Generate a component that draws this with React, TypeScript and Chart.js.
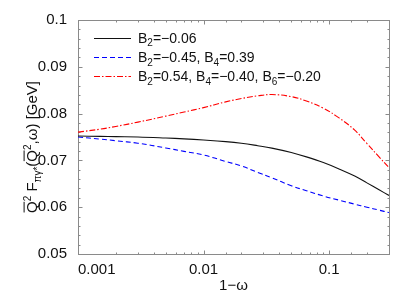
import React, { useEffect, useRef } from 'react';
import { Chart, registerables } from 'chart.js';

Chart.register(...registerables);

// ---- data ----
const xValues = [0.001, 0.0015, 0.002, 0.003, 0.005, 0.007, 0.01, 0.015, 0.02, 0.027, 0.035, 0.05, 0.066, 0.09, 0.12, 0.16, 0.2, 0.25, 0.3];
const seriesB2 = [0.0752, 0.07514, 0.07507, 0.075, 0.07478, 0.0746, 0.07436, 0.07402, 0.07367, 0.07314, 0.07262, 0.07168, 0.07075, 0.06954, 0.06818, 0.06665, 0.0652, 0.06371, 0.06252];
const seriesB2B4 = [0.07499, 0.07455, 0.07421, 0.07367, 0.07266, 0.07193, 0.07115, 0.06977, 0.06881, 0.06744, 0.06627, 0.06459, 0.06352, 0.06239, 0.06151, 0.06065, 0.06, 0.05937, 0.05885];
const seriesB2B4B6 = [0.07604, 0.07667, 0.07725, 0.07818, 0.07946, 0.08034, 0.08128, 0.0825, 0.08321, 0.08379, 0.08407, 0.08363, 0.08268, 0.08115, 0.07908, 0.07646, 0.07361, 0.07075, 0.06845];
const legendLabels = ['B_2=−0.06', 'B_2=−0.45, B_4=0.39', 'B_2=0.54, B_4=−0.40, B_6=−0.20'];
const xMin = 0.001;
const xMax = 0.3;
const yMin = 0.05;
const yMax = 0.1;
const yMajorStep = 0.01;
const yMinorStep = 0.002;
const xTitle = '1−ω';
const FONT = '"Liberation Sans", Arial, Helvetica, sans-serif';

type Part = { t: string; k?: 'sub' | 'sup'; over?: boolean };
const yTitleParts: Part[] = [
  { t: 'Q', over: true },
  { t: '2', k: 'sup' },
  { t: ' F' },
  { t: 'πγ*', k: 'sub' },
  { t: '(' },
  { t: 'Q', over: true },
  { t: '2', k: 'sup' },
  { t: ',ω) [GeV]' },
];

function parseLabel(s: string): Part[] {
  const out: Part[] = [];
  let buf = '';
  for (let i = 0; i < s.length; i++) {
    if (s[i] === '_' && i + 1 < s.length) {
      if (buf) out.push({ t: buf });
      buf = '';
      out.push({ t: s[i + 1], k: 'sub' });
      i++;
    } else buf += s[i];
  }
  if (buf) out.push({ t: buf });
  return out;
}

function drawRich(ctx: CanvasRenderingContext2D, parts: Part[], x: number, y: number, size: number, align: 'left' | 'center') {
  const small = Math.round(size * 0.68);
  const setFont = (p: Part) => {
    ctx.font = `${p.k ? small : size}px ${FONT}`;
  };
  let total = 0;
  parts.forEach((p) => {
    setFont(p);
    total += ctx.measureText(p.t).width;
  });
  let cx = align === 'center' ? x - total / 2 : x;
  ctx.textBaseline = 'alphabetic';
  ctx.textAlign = 'left';
  parts.forEach((p) => {
    setFont(p);
    const w = ctx.measureText(p.t).width;
    let dy = 0;
    if (p.k === 'sub') dy = size * 0.28;
    if (p.k === 'sup') dy = -size * 0.42;
    ctx.fillText(p.t, cx, y + dy);
    if (p.over) {
      ctx.save();
      ctx.lineWidth = 1;
      ctx.strokeStyle = ctx.fillStyle as string;
      ctx.beginPath();
      const oy = y - size * 0.86;
      ctx.moveTo(cx + 0.5, oy);
      ctx.lineTo(cx + w - 0.5, oy);
      ctx.stroke();
      ctx.restore();
    }
    cx += w;
  });
}

const isPow10 = (v: number) => {
  const l = Math.log10(v);
  return Math.abs(l - Math.round(l)) < 1e-6;
};

const framePlugin = {
  id: 'frameTicks',
  beforeDatasetsDraw(chart: any) {
    const { ctx, chartArea: a, scales } = chart;
    const xs = scales.x;
    const ys = scales.y;
    const L = Math.round(a.left) + 0.5;
    const R = Math.round(a.right) + 0.5;
    const T = Math.round(a.top) + 0.5;
    const B = Math.round(a.bottom) + 0.5;
    ctx.save();
    ctx.strokeStyle = '#8a8a8a';
    ctx.lineWidth = 1;
    ctx.strokeRect(L, T, R - L, B - T);
    ctx.beginPath();
    xs.ticks.forEach((t: any) => {
      const px = Math.round(xs.getPixelForValue(t.value)) + 0.5;
      const len = isPow10(t.value) ? 4 : 2;
      ctx.moveTo(px, B);
      ctx.lineTo(px, B - len);
      ctx.moveTo(px, T);
      ctx.lineTo(px, T + len);
    });
    const n = Math.round((yMax - yMin) / yMinorStep);
    for (let i = 0; i <= n; i++) {
      const v = yMin + i * yMinorStep;
      const py = Math.round(ys.getPixelForValue(v)) + 0.5;
      const major = i % Math.round(yMajorStep / yMinorStep) === 0;
      const len = major ? 4 : 2;
      ctx.moveTo(L, py);
      ctx.lineTo(L + len, py);
      ctx.moveTo(R, py);
      ctx.lineTo(R - len, py);
    }
    ctx.stroke();
    ctx.restore();
  },
  afterDraw(chart: any) {
    const { ctx, chartArea: a } = chart;
    ctx.save();
    // legend
    chart.data.datasets.forEach((ds: any, i: number) => {
      const y = a.top + 17.5 + i * 19.2;
      ctx.save();
      ctx.strokeStyle = ds.borderColor;
      ctx.lineWidth = ds.borderWidth;
      ctx.setLineDash(ds.borderDash || []);
      ctx.beginPath();
      ctx.moveTo(a.left + 16, Math.round(y) + 0.5);
      ctx.lineTo(a.left + 53, Math.round(y) + 0.5);
      ctx.stroke();
      ctx.restore();
      ctx.fillStyle = '#111';
      drawRich(ctx, parseLabel(legendLabels[i]), a.left + 60, y + 5, 14, 'left');
    });
    // y-axis title
    ctx.translate(37, 147);
    ctx.rotate(-Math.PI / 2);
    ctx.fillStyle = '#111';
    drawRich(ctx, yTitleParts, 0, 0, 15, 'center');
    ctx.restore();
  },
};

export default function App() {
  const ref = useRef<HTMLCanvasElement | null>(null);
  useEffect(() => {
    if (!ref.current) return;
    const mk = (ys: number[]) => xValues.map((x, i) => ({ x, y: ys[i] }));
    const chart = new Chart(ref.current, {
      type: 'line',
      data: {
        datasets: [
          {
            label: legendLabels[0],
            data: mk(seriesB2),
            borderColor: '#111111',
            borderWidth: 1.1,
            pointRadius: 0,
            tension: 0.4,
          },
          {
            label: legendLabels[1],
            data: mk(seriesB2B4),
            borderColor: '#0000ff',
            borderWidth: 1.1,
            borderDash: [5, 3],
            pointRadius: 0,
            tension: 0.4,
          },
          {
            label: legendLabels[2],
            data: mk(seriesB2B4B6),
            borderColor: '#ff0000',
            borderWidth: 1.1,
            borderDash: [6, 2, 1.5, 2],
            pointRadius: 0,
            tension: 0.4,
          },
        ],
      },
      options: {
        animation: false,
        responsive: false,
        maintainAspectRatio: false,
        layout: { padding: { left: 0, top: 16, right: 25, bottom: 0 } },
        plugins: { legend: { display: false }, tooltip: { enabled: false } },
        scales: {
          x: {
            type: 'logarithmic',
            min: xMin,
            max: xMax,
            grid: { display: false, drawTicks: false },
            border: { display: false },
            ticks: {
              autoSkip: false,
              maxRotation: 0,
              minRotation: 0,
              padding: 7,
              align: 'inner',
              color: '#111',
              font: { family: FONT, size: 15 },
              callback: (v: any) => (isPow10(Number(v)) ? String(Number(Number(v).toPrecision(3))) : ''),
            },
            title: {
              display: true,
              text: xTitle,
              color: '#111',
              font: { family: FONT, size: 15 },
              padding: { top: 0, bottom: 10 },
            },
            afterFit: (s: any) => {
              s.height = 51;
            },
          },
          y: {
            min: yMin,
            max: yMax,
            grid: { display: false, drawTicks: false },
            border: { display: false },
            ticks: {
              stepSize: yMajorStep,
              padding: 11,
              color: '#111',
              font: { family: FONT, size: 15 },
              callback: (v: any) => String(parseFloat(Number(v).toFixed(3))),
            },
            afterFit: (s: any) => {
              s.width = 78;
            },
          },
        },
      },
      plugins: [framePlugin],
    } as any);
    return () => chart.destroy();
  }, []);
  return (
    <div style={{ position: 'fixed', left: 0, top: 0, width: 414, height: 305, background: '#fff' }}>
      <canvas ref={ref} width={414} height={305} style={{ display: 'block' }} />
    </div>
  );
}
